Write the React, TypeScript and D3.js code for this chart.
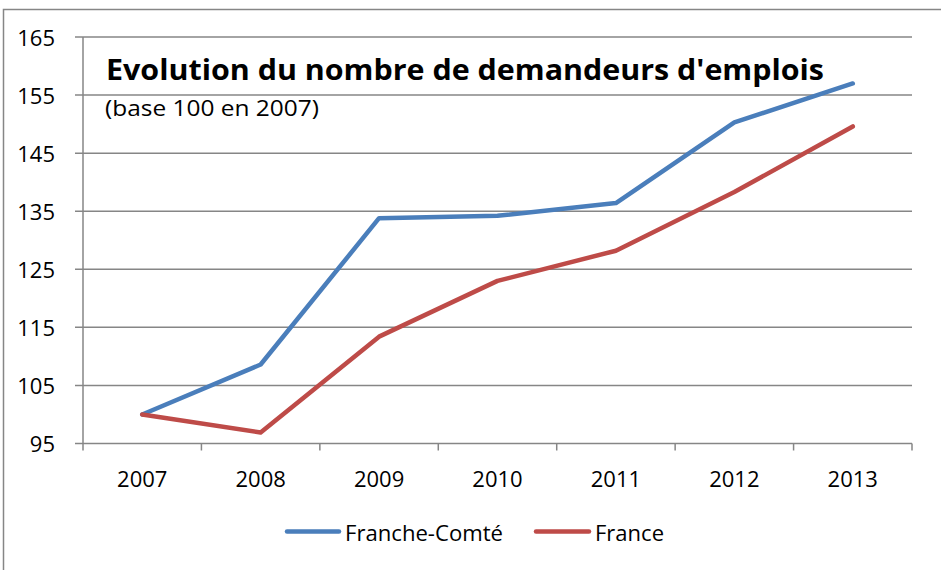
import React from "react";
import * as d3 from "d3";

const years = ["2007", "2008", "2009", "2010", "2011", "2012", "2013"];
const francheComte = [100, 108.6, 133.8, 134.2, 136.4, 150.3, 157.0];
const france = [100, 96.9, 113.4, 123.0, 128.2, 138.3, 149.6];
const yTicks = [95, 105, 115, 125, 135, 145, 155, 165];
const seriesNames = ["Franche-Comté", "France"];
const seriesColors = ["#4A7EBB", "#BE4B48"];

const W = 941;
const H = 570;
const FONT = "'Open Sans', 'Noto Sans', sans-serif";

export default function App() {
  const left = 83;
  const right = 912;
  const top = 37;
  const bottom = 443.5;
  const x = d3.scaleBand<string>().domain(years).range([left, right]);
  const y = d3.scaleLinear().domain([95, 165]).range([bottom, top]);
  const cx = (d: string) => (x(d) as number) + x.bandwidth() / 2;
  const line = d3
    .line<number>()
    .x((_, i) => cx(years[i]))
    .y((v) => y(v));
  const gridColor = "#868686";
  const all = [francheComte, france];
  const boundaries = d3.range(years.length + 1).map((i) => left + i * x.bandwidth());

  return (
    <svg
      width={W}
      height={H}
      style={{ position: "absolute", left: 0, top: 0, background: "#fff" }}
    >
      <rect x={0} y={0} width={W} height={H} fill="#fff" />
      {/* outer chart border */}
      <path d={`M3.5,${H + 5} V9.5 H${W + 5}`} fill="none" stroke={gridColor} strokeWidth={1.5} />
      {/* gridlines + y ticks */}
      {yTicks.map((t) => (
        <g key={t}>
          <line x1={75} x2={right} y1={y(t)} y2={y(t)} stroke={gridColor} strokeWidth={1.5} />
          <text
            x={55}
            y={y(t) + 1}
            dy="0.36em"
            textAnchor="end"
            fontFamily={FONT}
            fontSize={22}
            fill="#000"
          >
            {t}
          </text>
        </g>
      ))}
      {/* y axis */}
      <line x1={left} x2={left} y1={top} y2={bottom} stroke={gridColor} strokeWidth={1.5} />
      {/* x axis ticks */}
      {boundaries.map((b, i) => (
        <line key={i} x1={b} x2={b} y1={bottom} y2={bottom + 7} stroke={gridColor} strokeWidth={1.5} />
      ))}
      {years.map((yr) => (
        <text
          key={yr}
          x={cx(yr)}
          y={479.5}
          dy="0.36em"
          textAnchor="middle"
          fontFamily={FONT}
          fontSize={22}
          fill="#000"
        >
          {yr}
        </text>
      ))}
      {/* title */}
      <text
        x={106}
        y={80}
        fontFamily={FONT}
        fontWeight="bold"
        fontSize={28.5}
        textLength={718}
        lengthAdjust="spacingAndGlyphs"
        fill="#000"
      >
        Evolution du nombre de demandeurs d'emplois
      </text>
      <text
        x={105}
        y={116}
        fontFamily={FONT}
        fontSize={21}
        textLength={214}
        lengthAdjust="spacingAndGlyphs"
        fill="#000"
      >
        (base 100 en 2007)
      </text>
      {/* lines */}
      {all.map((s, i) => (
        <path
          key={i}
          d={line(s) as string}
          fill="none"
          stroke={seriesColors[i]}
          strokeWidth={4.5}
          strokeLinejoin="round"
          strokeLinecap="round"
        />
      ))}
      {/* legend */}
      {[
        { x1: 287, x2: 339, tx: 345, tl: 158 },
        { x1: 536, x2: 589, tx: 595, tl: 69 },
      ].map((l, i) => (
        <g key={i}>
          <line
            x1={l.x1}
            x2={l.x2}
            y1={531.5}
            y2={531.5}
            stroke={seriesColors[i]}
            strokeWidth={4.5}
            strokeLinecap="round"
          />
          <text
            x={l.tx}
            y={533}
            dy="0.36em"
            fontFamily={FONT}
            fontSize={22}
            textLength={l.tl}
            lengthAdjust="spacingAndGlyphs"
            fill="#000"
          >
            {seriesNames[i]}
          </text>
        </g>
      ))}
    </svg>
  );
}
